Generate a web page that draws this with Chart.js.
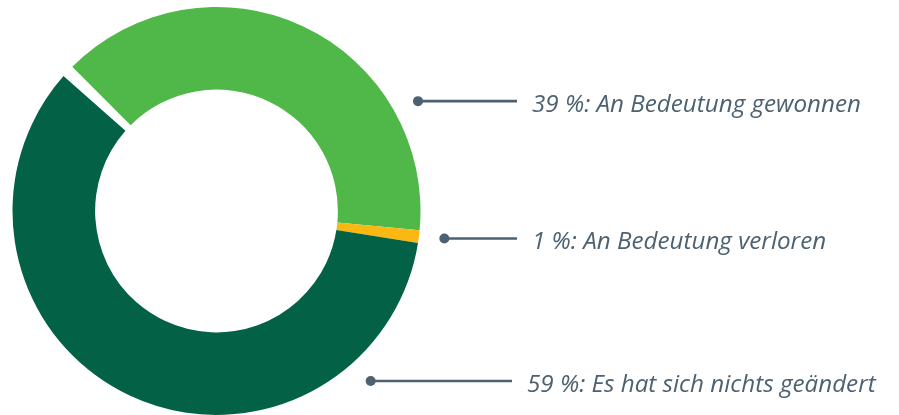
<!DOCTYPE html>
<html>
<head>
<meta charset="utf-8">
<script src="https://cdn.jsdelivr.net/npm/chart.js@4/dist/chart.umd.min.js"></script>
<style>
html,body{margin:0;padding:0;background:#fff;}
#wrap{width:899px;height:415px;position:relative;}
</style>
</head>
<body>
<div id="wrap"><canvas id="c" width="899" height="415"></canvas></div>
<script>
// Data
const categories = ["An Bedeutung gewonnen", "An Bedeutung verloren", "Es hat sich nichts geändert"];
const percentages = [39, 1, 59];

// Styles / layout
const colors = ["#4fb848", "#fbb812", "#036245"];
const labelColor = "#4d6170";
const dotAngles = [61.4, 96.9, 137.8];   // degrees clockwise from top
const lineEndX = [517, 517, 512];
const textGap = 15;

const total = percentages.reduce((a, b) => a + b, 0);

const leaderPlugin = {
  id: 'leaders',
  afterDatasetsDraw(chart) {
    const ctx = chart.ctx;
    const meta = chart.getDatasetMeta(0);
    ctx.save();
    meta.data.forEach((arc, i) => {
      const r = arc.outerRadius * 1.125;
      const a = (dotAngles[i] - 90) * Math.PI / 180;
      const x = arc.x + r * Math.cos(a);
      const y = arc.y + r * Math.sin(a);
      ctx.strokeStyle = labelColor;
      ctx.lineWidth = 2.6;
      ctx.beginPath();
      ctx.moveTo(x, y);
      ctx.lineTo(lineEndX[i], y);
      ctx.stroke();
      ctx.fillStyle = labelColor;
      ctx.beginPath();
      ctx.arc(x, y, 5, 0, Math.PI * 2);
      ctx.fill();
      ctx.font = "italic 500 24.2px 'Open Sans'";
      ctx.textBaseline = 'alphabetic';
      ctx.textAlign = 'left';
      ctx.fillText(percentages[i] + " %: " + categories[i], lineEndX[i] + textGap, y + 10.5);
    });
    ctx.restore();
  }
};

new Chart(document.getElementById('c'), {
  type: 'doughnut',
  data: {
    labels: categories,
    datasets: [{
      data: percentages,
      backgroundColor: colors,
      borderWidth: 0,
      hoverOffset: 0,
      offset: 0
    }]
  },
  options: {
    responsive: false,
    animation: false,
    rotation: -45,
    circumference: total / 100 * 360,
    cutout: '59.5%',
    layout: { padding: { top: 7, bottom: 0, left: 12, right: 478 } },
    plugins: { legend: { display: false }, tooltip: { enabled: false } },
    events: []
  },
  plugins: [leaderPlugin]
});
</script>
</body>
</html>
